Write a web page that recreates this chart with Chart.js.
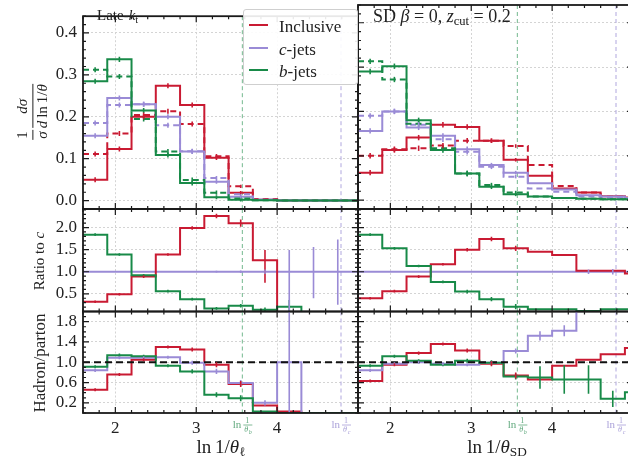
<!DOCTYPE html>
<html><head><meta charset="utf-8">
<script src="https://cdn.jsdelivr.net/npm/chart.js@4.4.0/dist/chart.umd.min.js"></script>
<style>
html,body{margin:0;padding:0;overflow:hidden;background:#fff;}
#root{position:relative;width:628px;height:459px;overflow:hidden;background:#fff;}
canvas{position:absolute;top:0;}
.lbl{position:absolute;font-family:'Liberation Serif','DejaVu Serif',serif;color:#222;white-space:nowrap;line-height:1;}
.rot{transform:translate(-50%,-50%) rotate(-90deg);}
.ctr{transform:translate(-50%,-50%);}
.frac{display:inline-flex;flex-direction:column;vertical-align:middle;text-align:center;margin:0 1px;}
.frac .num{border-bottom:1px solid #222;padding:0 1px 1px;line-height:1.05;}
.frac .den{line-height:1.1;padding-top:1px;}
sub{font-size:70%;vertical-align:-0.25em;line-height:0;}
#legend{position:absolute;left:243px;top:9px;width:113px;height:74px;border:1px solid #cfcfcf;border-radius:3px;background:rgba(255,255,255,0.9);}
.le{position:absolute;left:0;height:20px;}
.le .sw{position:absolute;left:5px;top:9px;width:19px;height:2px;}
.le .tx{position:absolute;left:35px;top:2px;font-family:'Liberation Serif',serif;font-size:17px;color:#222;white-space:nowrap;}
</style></head><body>
<div id="root"></div>
<script>
// ---------------- data ----------------
const binEdges = [1.6, 1.9, 2.2, 2.5, 2.8, 3.1, 3.4, 3.7, 4.0, 4.3, 4.6, 4.9, 5.2];
const seriesNames = ['Inclusive', 'c-jets', 'b-jets'];
const xTickValues = [2, 3, 4];
const yTicksDist = [0.0, 0.1, 0.2, 0.3, 0.4];
const yTicksRatio = [0.5, 1.0, 1.5, 2.0];
const yTicksHP = [0.2, 0.6, 1.0, 1.4, 1.8];
const thetaB = 3.57;   // ln 1/theta_b
const thetaC = 4.79;   // ln 1/theta_c
const unityLine = [1, 1];

// Late-kt : hadron level (solid) and parton level (dashed)
const ktIncHad = [0.050, 0.123, 0.200, 0.274, 0.228, 0.102, 0.019, 0.002, 0, 0, 0, 0];
const ktIncPar = [0.111, 0.160, 0.204, 0.213, 0.183, 0.106, 0.034, 0.004, 0, 0, 0, 0];
const ktCHad   = [0.155, 0.245, 0.230, 0.200, 0.117, 0.045, 0.009, 0.002, 0, 0, 0, 0];
const ktCPar   = [0.185, 0.228, 0.230, 0.180, 0.118, 0.054, 0.015, 0.002, 0, 0, 0, 0];
const ktBHad   = [0.285, 0.337, 0.215, 0.109, 0.042, 0.008, 0.002, 0.001, 0, 0, 0, 0];
const ktBPar   = [0.312, 0.296, 0.195, 0.117, 0.049, 0.019, 0.005, 0.001, 0, 0, 0, 0];
// Late-kt ratio to c
const ktRatioInc = [0.32, 0.49, 0.89, 1.39, 1.99, 2.26, 2.10, 1.26, 0, 0, 0, 0];
const ktRatioC   = [1, 1, 1, 1, 1, 1, 1, 1, 1, 1, 1, 1];
const ktRatioB   = [1.84, 1.39, 0.92, 0.56, 0.38, 0.17, 0.23, 0.14, 0.21, 0, 0, 0];
// Late-kt hadron/parton
const ktHPInc = [0.46, 0.76, 1.05, 1.30, 1.25, 0.95, 0.57, 0.15, 0.03, 0, 0, 0];
const ktHPC   = [0.84, 1.09, 1.09, 1.10, 0.99, 0.82, 0.59, 0.20, 1.00, 0, 0, 0];
const ktHPB   = [0.91, 1.14, 1.12, 0.93, 0.82, 0.36, 0.29, 0.03, 0, 0, 0, 0];

// Soft drop : hadron (solid) and parton (dashed)
const sdIncHad = [0.062, 0.113, 0.141, 0.170, 0.165, 0.134, 0.091, 0.055, 0.026, 0.017, 0.009, 0.006];
const sdIncPar = [0.100, 0.115, 0.117, 0.123, 0.134, 0.134, 0.122, 0.079, 0.032, 0.017, 0.008, 0.005];
const sdCHad   = [0.156, 0.200, 0.164, 0.145, 0.115, 0.079, 0.062, 0.038, 0.024, 0.011, 0.008, 0.005];
const sdCPar   = [0.190, 0.200, 0.170, 0.137, 0.109, 0.075, 0.053, 0.026, 0.019, 0.008, 0.005, 0.004];
const sdBHad   = [0.290, 0.302, 0.180, 0.113, 0.060, 0.030, 0.013, 0.008, 0.005, 0.003, 0.002, 0.002];
const sdBPar   = [0.313, 0.272, 0.172, 0.117, 0.060, 0.034, 0.017, 0.008, 0.005, 0.003, 0.002, 0.002];
// Soft drop ratio to c
const sdRatioInc = [0.40, 0.56, 0.89, 1.17, 1.50, 1.74, 1.53, 1.45, 1.38, 1.02, 1.02, 0.96];
const sdRatioC   = [1, 1, 1, 1, 1, 1, 1, 1, 1, 1, 1, 1];
const sdRatioB   = [1.84, 1.53, 1.13, 0.77, 0.55, 0.38, 0.21, 0.15, 0.15, 0.11, 0.15, 0.15];
// Soft drop hadron/parton
const sdHPInc = [0.63, 0.95, 1.18, 1.36, 1.23, 0.97, 0.74, 0.66, 0.93, 1.05, 1.16, 1.28];
const sdHPC   = [0.84, 0.97, 1.00, 0.97, 0.95, 0.99, 1.22, 1.52, 1.62, 2.30, 2.30, 2.30];
const sdHPB   = [0.93, 1.12, 1.03, 0.95, 1.03, 0.99, 0.72, 0.70, 0.66, 0.66, 0.28, 0.41];

// uncertainties (number = symmetric half width, [lo, hi] = bounds)
const errDist  = [0.006, 0.006, 0.006, 0.006, 0.006, 0.005, 0.004, 0, 0, 0, 0, 0];
const errRatio = [0.03, 0.03, 0.03, 0.03, 0.04, 0.05, 0.06, 0, 0, 0, 0, 0];
const errHP    = [0.03, 0.03, 0.03, 0.03, 0.04, 0.05, 0.06, 0, 0, 0, 0, 0];
const ktRatioIncErr = [0.03, 0.03, 0.03, 0.03, 0.04, 0.05, 0.08, [0.75, 1.49], 0, 0, 0, 0];
const ktRatioCErr   = [0, 0, 0, 0, 0, 0.02, 0.03, 0.05, [0.0, 1.49], [0.40, 1.56], [0.25, 1.73], 0];
const ktRatioBErr   = [0.03, 0.03, 0.03, 0.03, 0.03, 0.03, 0.04, 0.05, [0.0, 0.36], 0, 0, 0];
const ktHPCErr      = [0.03, 0.03, 0.03, 0.03, 0.04, 0.05, 0.06, 0.05, [0.0, 2.5], 0, 0, 0];
const sdRatioCErr   = [0, 0, 0, 0, 0, 0, 0, 0, 0, 0.05, 0.06, 0];
const sdHPBErr      = [0.03, 0.03, 0.03, 0.03, 0.04, 0.05, 0.06, 0.22, 0.28, 0.28, 0.16, 0];
const sdHPCErr      = [0.03, 0.03, 0.03, 0.03, 0.03, 0.03, 0.05, 0.09, 0.11, 0, 0, 0];

// ---------------- styling ----------------
const COL = { inc: '#c91a32', c: '#9a8bd6', b: '#188a48' };
const SERIF = "'Liberation Serif','DejaVu Serif',serif";

function steps(vals) {
  const pts = vals.map((v, i) => ({ x: binEdges[i], y: v }));
  pts.push({ x: binEdges[vals.length], y: vals[vals.length - 1] });
  return pts;
}
function ds(vals, color, dashed, errs) {
  return { data: steps(vals), vals: vals, errs: errs || null, borderColor: color, borderWidth: 2,
    borderDash: dashed ? [6, 4] : [], stepped: true, pointRadius: 0, fill: false };
}
function refLine() {
  return { data: [{ x: binEdges[0], y: unityLine[0] }, { x: binEdges[binEdges.length - 1], y: unityLine[1] }],
    borderColor: '#111', borderWidth: 2, borderDash: [7, 4], pointRadius: 0, fill: false };
}

const decor = {
  id: 'decor',
  beforeDatasetsDraw(chart) {
    const { ctx, chartArea: a, scales: { x } } = chart;
    ctx.save();
    ctx.beginPath(); ctx.rect(a.left, a.top, a.right - a.left, a.bottom - a.top); ctx.clip();
    ctx.setLineDash([4, 3]); ctx.lineWidth = 1;
    [[thetaB, '#74b98e'], [thetaC, '#b0a7de']].forEach(([v, c]) => {
      const px = x.getPixelForValue(v);
      ctx.strokeStyle = c; ctx.beginPath(); ctx.moveTo(px, a.top); ctx.lineTo(px, a.bottom); ctx.stroke();
    });
    ctx.restore();
  },
  afterDatasetsDraw(chart) {
    const { ctx, chartArea: a, scales: { x, y } } = chart;
    const o = chart.options.plugins.decor;
    ctx.save();
    ctx.beginPath(); ctx.rect(a.left, a.top, a.right - a.left, a.bottom - a.top); ctx.clip();
    chart.data.datasets.forEach(d => {
      if (!d.errs) return;
      ctx.strokeStyle = d.borderColor; ctx.lineWidth = 1.6; ctx.setLineDash([]);
      d.errs.forEach((e, i) => {
        if (!e) return;
        const v = d.vals[i];
        const lo = Array.isArray(e) ? e[0] : v - e;
        const hi = Array.isArray(e) ? e[1] : v + e;
        const cx = x.getPixelForValue((binEdges[i] + binEdges[i + 1]) / 2);
        ctx.beginPath(); ctx.moveTo(cx, y.getPixelForValue(lo)); ctx.lineTo(cx, y.getPixelForValue(hi)); ctx.stroke();
      });
    });
    ctx.restore();
    // frame and inward ticks
    ctx.save();
    ctx.strokeStyle = '#1a1a1a'; ctx.setLineDash([]);
    ctx.lineWidth = 1.8;
    ctx.strokeRect(a.left, a.top, a.right - a.left, a.bottom - a.top);
    ctx.lineWidth = 1.2;
    ctx.beginPath();
    for (let k = 8; k <= 25; k++) {
      const v = k / 5; const px = x.getPixelForValue(v);
      const L = Number.isInteger(v) ? 6 : 3;
      ctx.moveTo(px, a.bottom); ctx.lineTo(px, a.bottom - L);
      ctx.moveTo(px, a.top); ctx.lineTo(px, a.top + L);
    }
    const st = o.minorY;
    for (let k = Math.ceil(y.min / st - 1e-6); k <= Math.floor(y.max / st + 1e-6); k++) {
      const v = k * st; const py = y.getPixelForValue(v);
      const major = o.majors.some(m => Math.abs(m - v) < 1e-6);
      const L = major ? 6 : 3;
      ctx.moveTo(a.left, py); ctx.lineTo(a.left + L, py);
      ctx.moveTo(a.right, py); ctx.lineTo(a.right - L, py);
    }
    ctx.stroke();
    ctx.restore();
    if (o.thetaLabels) {
      ctx.save();
      [[thetaB, '#5fa87c', 'b'], [thetaC, '#a89fd8', 'c']].forEach(([v, c, s]) => {
        const px = x.getPixelForValue(v);
        ctx.fillStyle = c; ctx.strokeStyle = c;
        ctx.font = '11px ' + SERIF; ctx.textAlign = 'right'; ctx.textBaseline = 'alphabetic';
        ctx.fillText('ln', px - 1, a.bottom + 15);
        ctx.textAlign = 'center';
        ctx.font = '8px ' + SERIF;
        ctx.fillText('1', px + 5, a.bottom + 10);
        ctx.lineWidth = 0.8; ctx.beginPath(); ctx.moveTo(px + 1, a.bottom + 12); ctx.lineTo(px + 10, a.bottom + 12); ctx.stroke();
        ctx.font = 'italic 8px ' + SERIF; ctx.fillText('θ', px + 4, a.bottom + 19);
        ctx.font = 'italic 6px ' + SERIF; ctx.fillText(s, px + 8, a.bottom + 21);
      });
      ctx.restore();
    }
  }
};

const root = document.getElementById('root');
function makeChart(cfg) {
  const cv = document.createElement('canvas');
  cv.width = cfg.w; cv.height = 459; cv.style.left = cfg.left + 'px';
  cv.style.width = cfg.w + 'px'; cv.style.height = '459px';
  root.appendChild(cv);
  const tickFont = { family: SERIF, size: 17 };
  return new Chart(cv, {
    type: 'line',
    data: { datasets: cfg.datasets },
    options: {
      responsive: false, animation: false, devicePixelRatio: 1,
      layout: { padding: { top: cfg.top, bottom: cfg.bottom, left: 0, right: cfg.padRight } },
      plugins: { legend: { display: false }, tooltip: { enabled: false },
        decor: { minorY: cfg.minorY, majors: cfg.yTicks, thetaLabels: cfg.xLabels } },
      scales: {
        x: { type: 'linear', min: 1.6, max: 5.0,
          afterBuildTicks: s => { s.ticks = xTickValues.map(v => ({ value: v })); },
          ticks: { display: cfg.xLabels, padding: 5, font: tickFont, color: '#222', maxRotation: 0, callback: v => String(v) },
          grid: { color: '#d4d4d4', lineWidth: 1, drawTicks: false, tickLength: 0 },
          border: { display: false, dash: [2, 2] },
          afterFit: s => { s.height = cfg.xLabels ? 46 : 0; } },
        y: { type: 'linear', min: cfg.yMin, max: cfg.yMax,
          afterBuildTicks: s => { s.ticks = cfg.yTicks.map(v => ({ value: v })); },
          ticks: { display: cfg.yLabels, padding: 6, font: tickFont, color: '#222', callback: v => Number(v).toFixed(1) },
          grid: { color: '#d4d4d4', lineWidth: 1, drawTicks: false, tickLength: 0 },
          border: { display: false, dash: [2, 2] },
          afterFit: s => { s.width = cfg.yW; } }
      }
    },
    plugins: [decor]
  });
}

const rows = [
  { top: 5, bottom: 250, yMin: -0.02, yMax: 0.44, yTicks: yTicksDist, minorY: 0.02, xLabels: false },
  { top: 209, bottom: 147.5, yMin: 0.1, yMax: 2.42, yTicks: yTicksRatio, minorY: 0.1, xLabels: false },
  { top: 311.5, bottom: 0, yMin: 0.0, yMax: 2.0, yTicks: yTicksHP, minorY: 0.1, xLabels: true }
];
const cols = [
  { left: 0, w: 360, yW: 83, padRight: 2, yLabels: true },
  { left: 300, w: 333, yW: 58, padRight: 0, yLabels: false }
];
const panelData = [
  [
    [ds(ktBHad, COL.b, false, errDist), ds(ktBPar, COL.b, true, errDist), ds(ktCHad, COL.c, false, errDist),
     ds(ktCPar, COL.c, true, errDist), ds(ktIncHad, COL.inc, false, errDist), ds(ktIncPar, COL.inc, true, errDist)],
    [ds(ktRatioB, COL.b, false, ktRatioBErr), ds(ktRatioInc, COL.inc, false, ktRatioIncErr), ds(ktRatioC, COL.c, false, ktRatioCErr)],
    [refLine(), ds(ktHPB, COL.b, false, errHP), ds(ktHPC, COL.c, false, ktHPCErr), ds(ktHPInc, COL.inc, false, errHP)]
  ],
  [
    [ds(sdBHad, COL.b, false, errDist), ds(sdBPar, COL.b, true, errDist), ds(sdCHad, COL.c, false, errDist),
     ds(sdCPar, COL.c, true, errDist), ds(sdIncHad, COL.inc, false, errDist), ds(sdIncPar, COL.inc, true, errDist)],
    [ds(sdRatioB, COL.b, false, errRatio), ds(sdRatioInc, COL.inc, false, errRatio), ds(sdRatioC, COL.c, false, sdRatioCErr)],
    [refLine(), ds(sdHPB, COL.b, false, sdHPBErr), ds(sdHPC, COL.c, false, sdHPCErr), ds(sdHPInc, COL.inc, false, errHP)]
  ]
];

cols.forEach((c, ci) => rows.forEach((r, ri) => {
  makeChart(Object.assign({}, r, c, { datasets: panelData[ci][ri] }));
}));

// ---------------- text overlays ----------------
function addLabel(html, cls, style) {
  const d = document.createElement('div');
  d.className = 'lbl ' + cls; d.innerHTML = html; d.setAttribute('style', style);
  root.appendChild(d); return d;
}
addLabel('<span class="frac"><span class="num">1</span><span class="den"><i>σ</i></span></span>' +
         '<span class="frac"><span class="num"><i>dσ</i></span><span class="den"><i>d</i>&thinsp;ln&thinsp;1/<i>θ</i></span></span>',
         'rot', 'left:33px;top:112px;font-size:15px;');
addLabel('Ratio to <i>c</i>', 'rot', 'left:39px;top:261px;font-size:15px;');
addLabel('Hadron/parton', 'rot', 'left:39px;top:363px;font-size:17px;');
addLabel('ln&thinsp;1/<i>θ</i><sub>ℓ</sub>', 'ctr', 'left:221px;top:446px;font-size:19px;');
addLabel('ln&thinsp;1/<i>θ</i><sub>SD</sub>', 'ctr', 'left:497px;top:446px;font-size:19px;');
addLabel('Late-<i>k</i><sub>t</sub>', '', 'left:97px;top:8px;font-size:15px;');
addLabel('SD <i>β</i> = 0, <i>z</i><sub>cut</sub> = 0.2', '', 'left:373px;top:7px;font-size:18px;');

// legend built from series names / colours
const legend = document.createElement('div'); legend.id = 'legend'; root.appendChild(legend);
const legCols = [COL.inc, COL.c, COL.b];
seriesNames.forEach((n, i) => {
  const e = document.createElement('div'); e.className = 'le'; e.style.top = (5 + i * 22.5) + 'px';
  const m = n.match(/^([a-z])-(.*)$/);
  const txt = m ? '<i>' + m[1] + '</i>-' + m[2] : n;
  e.innerHTML = '<span class="sw" style="background:' + legCols[i] + '"></span><span class="tx">' + txt + '</span>';
  legend.appendChild(e);
});
</script>
</body></html>
